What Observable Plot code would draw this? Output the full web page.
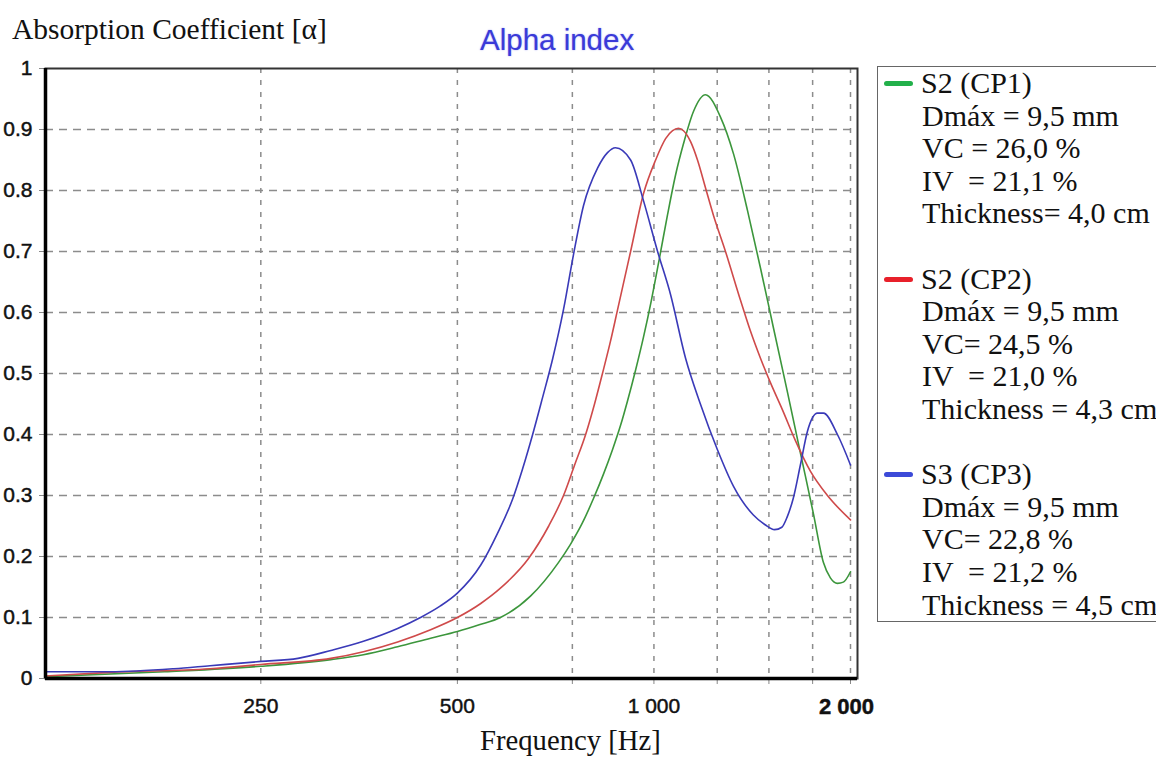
<!DOCTYPE html>
<html>
<head>
<meta charset="utf-8">
<script src="https://cdn.jsdelivr.net/npm/d3@7"></script>
<script src="https://cdn.jsdelivr.net/npm/@observablehq/plot@0.6"></script>
<style>
  html, body { margin: 0; padding: 0; background: #fff; overflow: hidden; }
  #page { position: relative; width: 1156px; height: 758px; overflow: hidden; }
  #chart { position: absolute; left: 0; top: 0; }
  .serif { font-family: "Liberation Serif", "Times New Roman", serif; color: #111; position: absolute; line-height: 1; white-space: pre; }
  #ytitle { left: 12px; top: 15px; font-size: 29.5px; }
  #xtitle { left: 480px; top: 726px; font-size: 28.7px; }
  #title { position: absolute; left: 480px; top: 25px; font-family: "Liberation Sans", Arial, sans-serif; font-size: 29.5px; line-height: 1;
           color: #3a3ad8; text-shadow: 0 0 1.5px rgba(70,70,230,0.6); white-space: pre; }
  #legend { position: absolute; left: 877px; top: 66px; width: 300px; height: 556px; border: 1.5px solid #666; box-sizing: border-box;
            font-family: "Liberation Serif", "Times New Roman", serif; font-size: 30px; color: #111; }
  #legend .row { height: 32.6px; line-height: 32.6px; white-space: pre; position: relative; padding-left: 43px; }
  #legend .sw { position: absolute; left: 6px; top: 14px; width: 29px; height: 5px; border-radius: 3px; }
</style>
</head>
<body>
<div id="page">
  <div id="chart"></div>
  <div id="ytitle" class="serif">Absorption Coefficient [α]</div>
  <div id="title">Alpha index</div>
  <div id="xtitle" class="serif">Frequency [Hz]</div>
  <div id="legend"></div>
</div>
<script>
// Sound absorption coefficient versus frequency for three porous asphalt specimens.
const seriesNames = ["S2 (CP1)", "S2 (CP2)", "S3 (CP3)"];
const lineColors = ["#3c963c", "#cf4a4a", "#3a3ab8"];
const swatchColors = ["#22b04a", "#e8202a", "#3c4ad8"];

const freqCP1 = [117,178,250,320,359,405,455,500,540,582,647,714,745,777,808,837,864,889,911,937,964,991,1020,1049,1079,1110,1150,1199,1265,1324,1391,1456,1524,1601,1676,1755,1818,1863,1910,1950,2000];
const alphaCP1 = [0.003,0.011,0.020,0.031,0.039,0.052,0.066,0.077,0.088,0.100,0.135,0.190,0.220,0.255,0.295,0.335,0.375,0.415,0.455,0.505,0.560,0.620,0.690,0.760,0.825,0.877,0.930,0.957,0.920,0.860,0.767,0.673,0.575,0.470,0.370,0.270,0.190,0.165,0.156,0.158,0.175];

const freqCP2 = [117,147,209,250,320,359,405,455,500,543,582,643,690,727,756,786,811,834,858,879,921,964,1006,1042,1068,1090,1110,1138,1166,1199,1233,1287,1357,1405,1456,1508,1574,1647,1736,1844,2000];
const alphaCP2 = [0.004,0.010,0.016,0.023,0.033,0.044,0.060,0.080,0.100,0.123,0.148,0.197,0.250,0.300,0.350,0.400,0.450,0.500,0.553,0.603,0.700,0.795,0.850,0.885,0.898,0.902,0.898,0.880,0.850,0.805,0.760,0.700,0.620,0.570,0.525,0.485,0.440,0.390,0.340,0.300,0.260];

const freqCP3 = [117,147,184,209,250,285,320,359,405,439,471,500,543,576,608,629,652,675,700,727,753,780,820,849,873,921,964,1013,1060,1118,1178,1251,1324,1420,1480,1530,1570,1600,1635,1676,1718,1780,1818,1910,2000];
const alphaCP3 = [0.011,0.011,0.016,0.021,0.028,0.033,0.046,0.061,0.082,0.100,0.119,0.140,0.186,0.238,0.295,0.343,0.400,0.460,0.525,0.605,0.695,0.775,0.837,0.862,0.870,0.850,0.783,0.700,0.630,0.525,0.450,0.375,0.315,0.268,0.252,0.244,0.248,0.265,0.296,0.350,0.405,0.435,0.435,0.400,0.350];

// Legend text for each specimen
const legendLines = [
  ["Dmáx = 9,5 mm", "VC = 26,0 %", "IV  = 21,1 %", "Thickness= 4,0 cm"],
  ["Dmáx = 9,5 mm", "VC= 24,5 %", "IV  = 21,0 %", "Thickness = 4,3 cm"],
  ["Dmáx = 9,5 mm", "VC= 22,8 %", "IV  = 21,2 %", "Thickness = 4,5 cm"]
];

const xDomain = [117, 2050];
const xGrid = [250, 500, 750, 1000, 1250, 1500, 1750, 2000];
const xLabelled = [250, 500, 1000, 2000];
const yTicks = [0, 0.1, 0.2, 0.3, 0.4, 0.5, 0.6, 0.7, 0.8, 0.9, 1];
const yGrid = [0.1, 0.2, 0.3, 0.4, 0.5, 0.6, 0.7, 0.8, 0.9];

const freqs = [freqCP1, freqCP2, freqCP3];
const alphas = [alphaCP1, alphaCP2, alphaCP3];
const rows = seriesNames.flatMap((name, i) =>
  freqs[i].map((f, j) => ({series: name, freq: f, alpha: alphas[i][j]})));

const fmtThousands = d3.formatLocale({decimal: ".", thousands: " ", grouping: [3], currency: ["", ""]}).format(",d");

const chart = Plot.plot({
  width: 870,
  height: 758,
  marginLeft: 45,
  marginRight: 13,
  marginTop: 68,
  marginBottom: 80,
  style: {fontFamily: "'Liberation Sans', Arial, sans-serif", fontSize: "20px", color: "#111", background: "transparent", overflow: "visible"},
  x: {type: "log", domain: xDomain},
  y: {domain: [0, 1]},
  color: {domain: seriesNames, range: lineColors},
  marks: [
    Plot.gridX(xGrid, {stroke: "#8c8c8c", strokeOpacity: 1, strokeWidth: 1.5, strokeDasharray: "5,7"}),
    Plot.gridY(yGrid, {stroke: "#8c8c8c", strokeOpacity: 1, strokeWidth: 1.5, strokeDasharray: "8,6"}),
    Plot.axisY(yTicks, {tickSize: 6, tickPadding: 7, stroke: "#888", label: null, fill: "#111",
      tickFormat: d => (d === 0 || d === 1) ? String(d) : d.toFixed(1)}),
    Plot.axisX(xGrid, {tickSize: 6, tickPadding: 14, stroke: "#888", label: null, fill: "#111",
      tickFormat: d => xLabelled.includes(d) ? fmtThousands(d) : ""}),
    Plot.line(rows, {x: "freq", y: "alpha", z: "series", stroke: "series", strokeWidth: 1.6, curve: "monotone-x"}),
    Plot.frame({stroke: "#333", strokeWidth: 2}),
    Plot.ruleX([xDomain[0]], {stroke: "#000", strokeWidth: 3.5}),
    Plot.ruleY([0], {stroke: "#000", strokeWidth: 3.5})
  ]
});
document.getElementById("chart").appendChild(chart);

// Tick label typography: larger, slightly heavier digits; bold label for the last frequency tick
d3.select(chart).selectAll('g[aria-label$="tick label"]')
  .attr("font-size", null).style("font-size", "21px")
  .attr("stroke", "#111").attr("stroke-width", 0.45).attr("paint-order", "stroke");
const xLabels = d3.select(chart).selectAll('g[aria-label="x-axis tick label"] text').nodes();
const last = xLabels[xLabels.length - 1];
if (last) { last.style.fontWeight = "bold"; last.style.fontSize = "22px"; last.setAttribute("dx", "-4"); }

// Legend: one block per specimen
const legend = d3.select("#legend");
seriesNames.forEach((name, i) => {
  const head = legend.append("div").attr("class", "row");
  head.append("span").attr("class", "sw").style("background", swatchColors[i]);
  head.append("span").text(name);
  legendLines[i].forEach(t => legend.append("div").attr("class", "row").style("padding-left", "44px").text(t));
  if (i < seriesNames.length - 1) legend.append("div").attr("class", "row").text(" ");
});
</script>
</body>
</html>
